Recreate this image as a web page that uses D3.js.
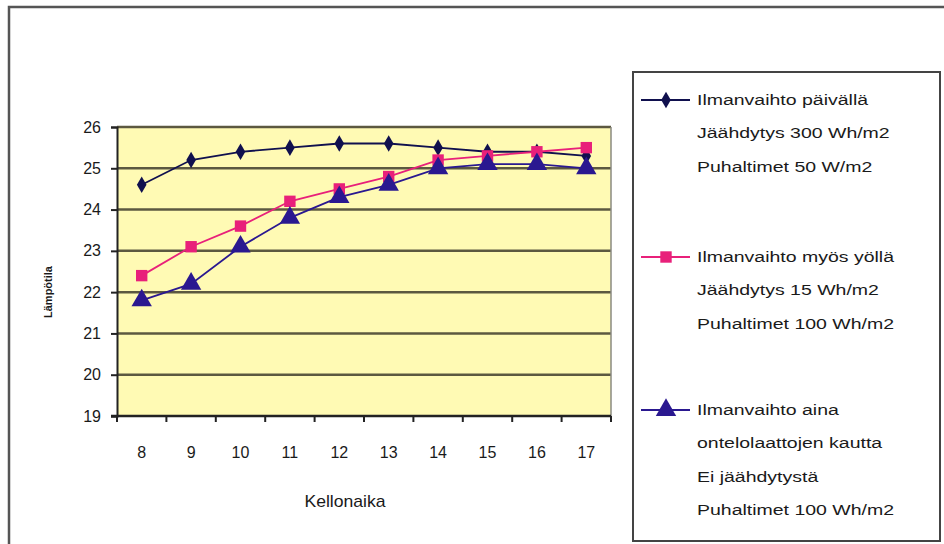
<!DOCTYPE html>
<html><head><meta charset="utf-8">
<script src="https://cdn.jsdelivr.net/npm/d3@7"></script>
<style>
body{margin:0;background:#fff;}
text{font-family:"Liberation Sans",Arial,sans-serif;fill:#1a1a1a;}
</style></head>
<body><svg id="c" width="944" height="544"></svg>
<script>
const hours = ["8","9","10","11","12","13","14","15","16","17"];
const yTicks = [19,20,21,22,23,24,25,26];
const seriesDay = [24.6,25.2,25.4,25.5,25.6,25.6,25.5,25.4,25.4,25.3];
const seriesNight = [22.4,23.1,23.6,24.2,24.5,24.8,25.2,25.3,25.4,25.5];
const seriesSlab = [21.8,22.2,23.1,23.8,24.3,24.6,25.0,25.1,25.1,25.0];
const legendLines = [
  ["Ilmanvaihto päivällä","Jäähdytys 300 Wh/m2","Puhaltimet 50 W/m2"],
  ["Ilmanvaihto myös yöllä","Jäähdytys 15 Wh/m2","Puhaltimet 100 Wh/m2"],
  ["Ilmanvaihto aina","ontelolaattojen kautta","Ei jäähdytystä","Puhaltimet 100 Wh/m2"]
];
const xTitle = "Kellonaika", yTitle = "Lämpötila";

const series = [
  {values: seriesDay, color:"#10104e", marker:"diamond", size:80},
  {values: seriesNight, color:"#e8207a", marker:"square", size:130},
  {values: seriesSlab, color:"#2a1890", marker:"triangle", size:180}
];

const svg = d3.select("#c");
svg.append("rect").attr("x",9).attr("y",7).attr("width",940).attr("height",540)
  .attr("fill","none").attr("stroke","#555").attr("stroke-width",2.5);

const L=117, R=611, T=127, B=416;
const x = d3.scaleBand().domain(hours).range([L,R]);
const y = d3.scaleLinear().domain([19,26]).range([B,T]);

svg.append("rect").attr("x",L).attr("y",T).attr("width",R-L).attr("height",B-T).attr("fill","#fffab4");

svg.append("g").selectAll("line").data(yTicks.filter(d=>d>19)).join("line")
  .attr("x1",L).attr("x2",R).attr("y1",d=>y(d)).attr("y2",d=>y(d))
  .attr("stroke","#5c5840").attr("stroke-width",2.5);
svg.append("line").attr("x1",R).attr("x2",R).attr("y1",T).attr("y2",B).attr("stroke","#8a8a80").attr("stroke-width",1.5);

const ya = svg.append("g").attr("transform",`translate(${L},0)`)
  .call(d3.axisLeft(y).tickValues(yTicks).tickSize(6).tickPadding(10).tickFormat(d3.format("d")));
ya.select(".domain").attr("stroke","#222").attr("stroke-width",2);
ya.selectAll(".tick line").attr("stroke","#222").attr("stroke-width",2);
ya.selectAll("text").attr("font-size",16).attr("font-family","Liberation Sans, Arial").attr("fill","#1a1a1a");

const xa = svg.append("g").attr("transform",`translate(0,${B})`);
xa.append("line").attr("x1",L-6).attr("x2",R).attr("y1",0).attr("y2",0).attr("stroke","#222").attr("stroke-width",2.5);
xa.selectAll("line.t").data(hours.concat(["end"])).join("line").attr("class","t")
  .attr("x1",(d,i)=>L+i*x.step()).attr("x2",(d,i)=>L+i*x.step())
  .attr("y1",0).attr("y2",6).attr("stroke","#222").attr("stroke-width",2);
xa.selectAll("text").data(hours).join("text")
  .attr("x",d=>x(d)+x.bandwidth()/2).attr("y",42).attr("text-anchor","middle")
  .attr("font-size",16).text(d=>d);

svg.append("text").attr("x",345).attr("y",507).attr("text-anchor","middle").attr("font-size",16)
  .attr("transform","translate(345,0) scale(1.1,1) translate(-345,0)").text(xTitle);
svg.append("text").attr("transform","translate(52,292) rotate(-90)").attr("text-anchor","middle")
  .attr("font-size",11).attr("font-weight","bold").text(yTitle);

const line = d3.line().x((d,i)=>x(hours[i])+x.bandwidth()/2).y(d=>y(d));
const symType = {diamond:d3.symbolDiamond, square:d3.symbolSquare, triangle:d3.symbolTriangle};

series.forEach(s=>{
  svg.append("path").datum(s.values).attr("d",line).attr("fill","none")
    .attr("stroke",s.color).attr("stroke-width",1.8);
});
series.forEach(s=>{
  svg.append("g").selectAll("path").data(s.values).join("path")
    .attr("transform",(d,i)=>`translate(${x(hours[i])+x.bandwidth()/2},${y(d)})`)
    .attr("d",d3.symbol().type(symType[s.marker]).size(s.size)).attr("fill",s.color);
});

svg.append("rect").attr("x",633).attr("y",72).attr("width",307).attr("height",469)
  .attr("fill","#fff").attr("stroke","#444").attr("stroke-width",2);
const entryY = [100,257,410];
legendLines.forEach((lines,k)=>{
  const s = series[k];
  const g = svg.append("g").attr("transform",`translate(0,${entryY[k]})`);
  g.append("line").attr("x1",641).attr("x2",690).attr("y1",0).attr("y2",0).attr("stroke",s.color).attr("stroke-width",1.8);
  g.append("path").attr("transform","translate(666,0)").attr("d",d3.symbol().type(symType[s.marker]).size(s.size)).attr("fill",s.color);
  lines.forEach((t,j)=>{
    g.append("text").attr("x",697).attr("y",j*33.3+5).attr("font-size",15)
      .attr("transform",`translate(697,0) scale(1.3,1) translate(-697,0)`).text(t);
  });
});
</script></body></html>
